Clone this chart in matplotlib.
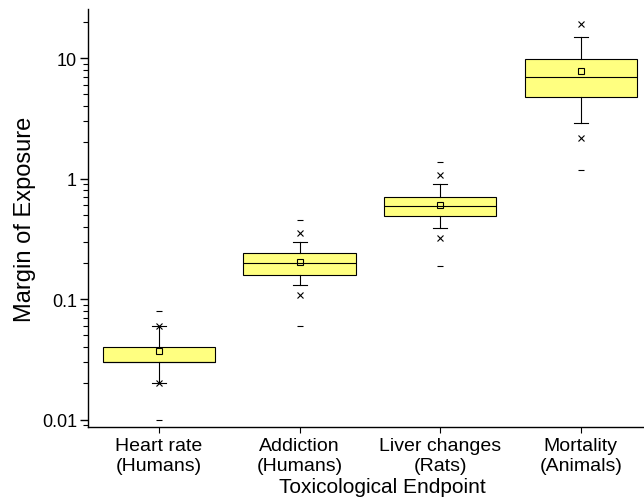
import numpy as np
import matplotlib
matplotlib.use("Agg")
import matplotlib.pyplot as plt
from matplotlib.ticker import LogLocator, FuncFormatter, NullFormatter

plt.rcParams['font.family'] = ['Liberation Sans', 'DejaVu Sans']
plt.rcParams['font.size'] = 14

# values (log axis)
labels = ["Heart rate\n(Humans)", "Addiction\n(Humans)", "Liver changes\n(Rats)", "Mortality\n(Animals)"]
q1 = [0.030, 0.160, 0.49, 4.8]
med = [0.030, 0.200, 0.59, 7.0]
q3 = [0.040, 0.240, 0.71, 9.9]
mean = [0.037, 0.204, 0.61, 7.8]
whislo = [0.020, 0.130, 0.39, 2.9]
whishi = [0.060, 0.300, 0.91, 15.0]
p1 = [0.020, 0.109, 0.32, 2.16]
p99 = [0.060, 0.353, 1.07, 19.2]
vmin = [0.010, 0.060, 0.19, 1.17]
vmax = [0.080, 0.453, 1.38, np.nan]

fig = plt.figure(figsize=(6.44, 5.02), dpi=100)
ax = fig.add_axes([88 / 644, 1 - 428 / 502, 1 - 88 / 644, (428 - 10) / 502])

pos = np.arange(1, len(labels) + 1)
stats = []
for i in range(len(labels)):
    stats.append(dict(med=med[i], q1=q1[i], q3=q3[i], whislo=whislo[i],
                      whishi=whishi[i], mean=mean[i], fliers=[]))

ax.bxp(stats, positions=pos, widths=0.8, patch_artist=True, showmeans=True,
       showfliers=False, capwidths=0.1,
       boxprops=dict(facecolor='#ffff80', edgecolor='black', linewidth=0.8),
       medianprops=dict(color='black', linewidth=0.8),
       whiskerprops=dict(color='black', linewidth=0.8),
       capprops=dict(color='black', linewidth=0.8),
       meanprops=dict(marker='s', markerfacecolor='none', markeredgecolor='black',
                      markersize=4.3, markeredgewidth=0.8))

ax.plot(pos, p1, 'x', color='black', markersize=5, markeredgewidth=0.8)
ax.plot(pos, p99, 'x', color='black', markersize=5, markeredgewidth=0.8)
ax.plot(pos, vmin, '_', color='black', markersize=5, markeredgewidth=0.8)
ax.plot(pos, vmax, '_', color='black', markersize=5, markeredgewidth=0.8)

ax.set_yscale('log')
ax.set_ylim(0.0087, 25.6)
ax.set_xlim(0.495, 4.45)
ax.yaxis.set_major_locator(LogLocator(base=10, numticks=10))
ax.yaxis.set_minor_locator(LogLocator(base=10, subs=np.arange(2, 10), numticks=10))
ax.yaxis.set_major_formatter(FuncFormatter(lambda v, p: '%g' % v))
ax.yaxis.set_minor_formatter(NullFormatter())

ax.set_xticks(pos)
ax.set_xticklabels(labels, linespacing=1.25)

for s in ['top', 'right']:
    ax.spines[s].set_visible(False)
for s in ['left', 'bottom']:
    ax.spines[s].set_linewidth(1.0)

ax.tick_params(axis='y', which='major', length=6, width=1.0, pad=2, labelsize=13)
ax.tick_params(axis='y', which='minor', length=3.5, width=0.8)
ax.tick_params(axis='x', which='major', length=4, width=0.8, pad=3)

ax.set_ylabel('Margin of Exposure', fontsize=17, labelpad=4)
ax.set_xlabel('Toxicological Endpoint', fontsize=15, labelpad=2)
ax.xaxis.label.set_x(0.529)

fig.savefig('out.png', dpi=100)
